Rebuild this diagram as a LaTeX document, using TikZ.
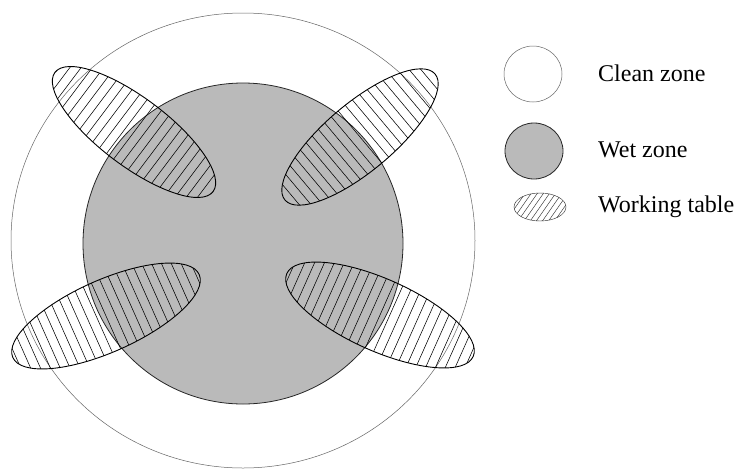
\documentclass[tikz,border=0pt]{standalone}
\usepackage{fontspec}
\setmainfont{Liberation Serif}
\newcommand{\worktable}[5]{%
  \begin{scope}[shift={(#1,#2)}, rotate=#3]
    \begin{scope}
      \clip (0,0) ellipse [x radius=#4pt, y radius=#5pt];
      \foreach \k in {-12,...,12} \draw[hatchline] (\k*9pt,-60pt) -- (\k*9pt,60pt);
    \end{scope}
    \draw[tableedge] (0,0) ellipse [x radius=#4pt, y radius=#5pt];
  \end{scope}}
\begin{document}
\begin{tikzpicture}[x=1pt,y=-1pt]
\tikzset{
  cleanzone/.style={draw=black!60, line width=0.5pt, fill=white},
  wetzone/.style={draw=black!85, line width=0.8pt, fill=black!27},
  tableedge/.style={draw=black, line width=0.9pt},
  hatchline/.style={draw=black, line width=0.55pt},
  legendhatch/.style={draw=black!80, line width=0.45pt},
  legendtext/.style={anchor=base west, font=\fontsize{24}{28}\selectfont, inner sep=0pt}
}
\useasboundingbox (0,0) rectangle (744,474);
\fill[white] (0,0) rectangle (744,474);
% zones
\path[cleanzone] (243,240.5) ellipse [x radius=232pt, y radius=227.5pt];
\path[wetzone] (243,243.5) ellipse [x radius=160pt, y radius=160.5pt];
% working tables
\worktable{134}{132}{-37}{99}{34}
\worktable{360}{137}{40}{98}{34}
\worktable{106}{316}{24}{102}{36}
\worktable{380}{315}{-24}{102}{36}
% legend
\path[cleanzone] (533,74) ellipse [x radius=29pt, y radius=28pt];
\path[wetzone] (534,151) ellipse [x radius=29pt, y radius=28pt];
\begin{scope}
  \clip (540,207) ellipse [x radius=26pt, y radius=14pt];
  \begin{scope}[shift={(540,207)}, rotate=-35]
    \foreach \k in {-8,...,8} \draw[legendhatch] (\k*5pt,-40pt) -- (\k*5pt,40pt);
  \end{scope}
\end{scope}
\draw[legendhatch] (540,207) ellipse [x radius=26pt, y radius=14pt];
\node[legendtext] (cleanlabel) at (598,81.7) {Clean zone};
\node[legendtext] (wetlabel) at (598,157) {Wet zone};
\node[legendtext] (tablelabel) at (598,212.7) {Working table};
\end{tikzpicture}
\end{document}
